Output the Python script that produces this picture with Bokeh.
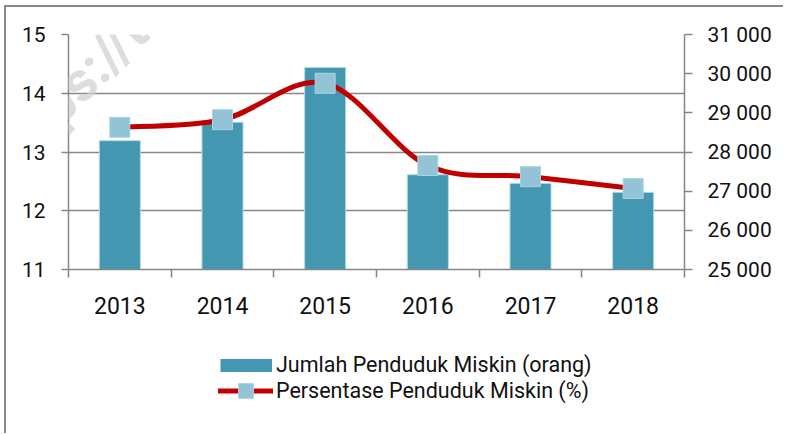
from bokeh.plotting import figure
from bokeh.layouts import column
from bokeh.models import Range1d, LinearAxis, FixedTicker, Legend, LegendItem, Label
from bokeh.embed import file_html
from bokeh.resources import INLINE

# ---------------- data ----------------
years = ["2013", "2014", "2015", "2016", "2017", "2018"]
jumlah = [28290, 28760, 30160, 27420, 27200, 26970]          # Jumlah Penduduk Miskin (orang)
persen = [13.42, 13.55, 14.17, 12.77, 12.58, 12.38]          # Persentase Penduduk Miskin (%)
left_ticks = [11, 12, 13, 14, 15]
right_ticks = [25000, 26000, 27000, 28000, 29000, 30000, 31000]
right_tick_labels = ["25 000", "26 000", "27 000", "28 000", "29 000", "30 000", "31 000"]
bar_label = "Jumlah Penduduk Miskin (orang)"
line_label = "Persentase Penduduk Miskin (%)"

FONT = "Roboto"
GRAY = "#878787"
BAR = "#4397b0"
MARK = "#93c3d6"
RED = "#c00000"

xs = list(range(len(years)))

p = figure(width=777, height=313,
           x_range=Range1d(-0.5, len(years) - 0.5),
           y_range=Range1d(left_ticks[0], left_ticks[-1]),
           output_backend="svg", toolbar_location=None,
           min_border_left=62, min_border_right=99,
           min_border_top=27, min_border_bottom=51)
p.outline_line_color = None
p.background_fill_color = "white"
p.border_fill_color = "white"

right_range = Range1d(right_ticks[0], right_ticks[-1])
p.extra_y_ranges = {"right": right_range}

# grid
p.xgrid.visible = False
p.ygrid.grid_line_color = GRAY
p.ygrid.grid_line_width = 1.5

# left axis
ya = p.yaxis[0]
ya.ticker = FixedTicker(ticks=left_ticks, minor_ticks=[])
ya.axis_line_color = GRAY
ya.axis_line_width = 1.5
ya.major_tick_line_color = GRAY
ya.major_tick_line_width = 1.5
ya.major_tick_out = 7
ya.major_tick_in = 0
ya.minor_tick_line_color = None
ya.major_label_text_font = FONT
ya.major_label_text_font_size = "21px"
ya.major_label_text_color = "#111111"
ya.major_label_standoff = 16

# right axis
ra = LinearAxis(y_range_name="right")
ra.ticker = FixedTicker(ticks=right_ticks, minor_ticks=[])
ra.major_label_overrides = {t: s for t, s in zip(right_ticks, right_tick_labels)}
ra.axis_line_color = GRAY
ra.axis_line_width = 1.5
ra.major_tick_line_color = GRAY
ra.major_tick_line_width = 1.5
ra.major_tick_out = 8
ra.major_tick_in = 0
ra.minor_tick_line_color = None
ra.major_label_text_font = FONT
ra.major_label_text_font_size = "21px"
ra.major_label_text_color = "#111111"
ra.major_label_standoff = 15
p.add_layout(ra, "right")

# x axis
xa = p.xaxis[0]
xa.ticker = FixedTicker(ticks=xs, minor_ticks=[i - 0.5 for i in range(len(years) + 1)])
xa.major_label_overrides = {i: y for i, y in zip(xs, years)}
xa.axis_line_color = GRAY
xa.axis_line_width = 1.5
xa.major_tick_line_color = None
xa.major_tick_out = 0
xa.major_tick_in = 0
xa.minor_tick_line_color = GRAY
xa.minor_tick_line_width = 1.5
xa.minor_tick_out = 8
xa.minor_tick_in = 0
xa.major_label_text_font = FONT
xa.major_label_text_font_size = "23px"
xa.major_label_text_color = "#111111"
xa.major_label_standoff = 19

# bars
p.vbar(x=xs, top=jumlah, bottom=right_range.start, width=0.4,
       y_range_name="right", fill_color=BAR, line_color="#b5dbe7", line_width=1)

# smoothed line (cubic Bezier segments through the data points)
n = len(xs)
x0, y0, x1, y1, cx0, cy0, cx1, cy1 = [], [], [], [], [], [], [], []
for i in range(n - 1):
    im, i2 = max(i - 1, 0), min(i + 2, n - 1)
    x0.append(xs[i]); y0.append(persen[i])
    x1.append(xs[i + 1]); y1.append(persen[i + 1])
    cx0.append(xs[i] + (xs[i + 1] - xs[im]) / 6)
    cy0.append(persen[i] + (persen[i + 1] - persen[im]) / 6)
    cx1.append(xs[i + 1] - (xs[i2] - xs[i]) / 6)
    cy1.append(persen[i + 1] - (persen[i2] - persen[i]) / 6)
p.bezier(x0=x0, y0=y0, x1=x1, y1=y1, cx0=cx0, cy0=cy0, cx1=cx1, cy1=cy1,
         line_color=RED, line_width=5, line_cap="round")
p.scatter(xs, persen, marker="square", size=20,
          fill_color=MARK, line_color="#a9d3e2", line_width=1)

# faint watermark
wm = Label(x=-48, y=82, x_units="screen", y_units="screen", text="https://ta",
           angle=45, angle_units="deg", text_font=FONT, text_font_size="56px",
           text_font_style="bold", text_color="#d2d2d2", text_alpha=0.75)
p.add_layout(wm)

# ---------------- legend area ----------------
# legend keys: same series, drawn against a 0..1 range so they stay out of view
q = figure(width=777, height=113, x_range=Range1d(0, 1), y_range=Range1d(0, 1),
           output_backend="svg", toolbar_location=None,
           x_axis_location=None, y_axis_location=None,
           min_border_left=0, min_border_right=0, min_border_top=0, min_border_bottom=0)
q.outline_line_color = None
q.xgrid.visible = False
q.ygrid.visible = False
bar_key = q.line(x=xs, y=jumlah, line_color=BAR, line_width=13, line_cap="butt")
line_key = q.line(x=xs, y=persen, line_color=RED, line_width=5, line_cap="round")
mark_key = q.scatter(x=xs, y=persen, marker="square", size=15,
                     fill_color=MARK, line_color="#a9d3e2", line_width=1)

common = dict(padding=0, margin=0, spacing=0, border_line_color=None,
              background_fill_alpha=0, label_text_font=FONT,
              label_text_font_size="21.5px", label_text_color="#111111")
leg1 = Legend(items=[LegendItem(label=bar_label, renderers=[bar_key])],
              location=(152, 56), glyph_width=52, glyph_height=16,
              label_standoff=4, **common)
leg2 = Legend(items=[LegendItem(label=line_label, renderers=[line_key, mark_key])],
              location=(150, 24), glyph_width=55, glyph_height=37,
              label_standoff=3, **common)
q.add_layout(leg1, "center")
q.add_layout(leg2, "center")

layout = column(p, q, spacing=0,
                styles={"border-left": "2px solid #878787", "border-top": "2px solid #878787",
                        "margin-left": "4px", "margin-top": "5px"})

open("out.html", "w").write(file_html(layout, INLINE))
